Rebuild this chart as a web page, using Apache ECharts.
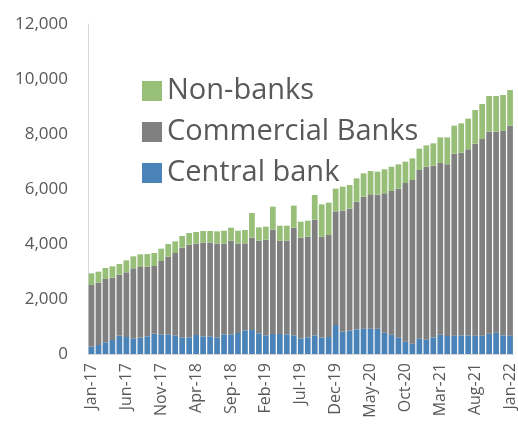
<!DOCTYPE html>
<html>
<head>
<meta charset="utf-8">
<script src="https://cdn.jsdelivr.net/npm/echarts@6/dist/echarts.min.js"></script>
<style>
  html, body { margin: 0; padding: 0; background: #fff; }
</style>
</head>
<body>
<div id="main" style="width: 518px;height:427px;"></div>
<script>
// months, Jan-17 .. Jan-22
const months = [
  "Jan-17", "Feb-17", "Mar-17", "Apr-17", "May-17", "Jun-17", "Jul-17", "Aug-17", "Sep-17", "Oct-17", "Nov-17", "Dec-17",
  "Jan-18", "Feb-18", "Mar-18", "Apr-18", "May-18", "Jun-18", "Jul-18", "Aug-18", "Sep-18", "Oct-18", "Nov-18", "Dec-18",
  "Jan-19", "Feb-19", "Mar-19", "Apr-19", "May-19", "Jun-19", "Jul-19", "Aug-19", "Sep-19", "Oct-19", "Nov-19", "Dec-19",
  "Jan-20", "Feb-20", "Mar-20", "Apr-20", "May-20", "Jun-20", "Jul-20", "Aug-20", "Sep-20", "Oct-20", "Nov-20", "Dec-20",
  "Jan-21", "Feb-21", "Mar-21", "Apr-21", "May-21", "Jun-21", "Jul-21", "Aug-21", "Sep-21", "Oct-21", "Nov-21", "Dec-21",
  "Jan-22"
];

const centralBank = [
  267, 327, 424, 509, 667, 618, 570, 594, 642, 739, 715, 715,
  679, 606, 606, 691, 642, 642, 606, 715, 715, 764, 861, 873,
  752, 679, 727, 727, 715, 679, 570, 606, 679, 594, 618, 1054,
  812, 848, 897, 921, 921, 921, 776, 703, 594, 448, 376, 557,
  521, 606, 703, 655, 667, 679, 679, 667, 667, 739, 776, 679,
  667
];

const commercialBanks = [
  2242, 2267, 2303, 2267, 2218, 2352, 2545, 2569, 2534, 2461, 2666, 2824,
  2993, 3260, 3369, 3321, 3406, 3406, 3406, 3297, 3406, 3248, 3163, 3357,
  3369, 3478, 3794, 3394, 3406, 3915, 3660, 3660, 4205, 3672, 3709, 4133,
  4400, 4436, 4642, 4800, 4885, 4872, 5066, 5224, 5418, 5770, 5951, 6133,
  6290, 6242, 6242, 6241, 6617, 6641, 6763, 6981, 7150, 7345, 7308, 7429,
  7635
];

const nonBanks = [
  424, 400, 400, 412, 388, 436, 436, 461, 460, 472, 449, 461,
  425, 425, 425, 424, 424, 424, 448, 472, 473, 472, 485, 897,
  485, 473, 836, 545, 545, 800, 582, 582, 897, 1176, 1176, 825,
  872, 861, 848, 848, 848, 837, 873, 884, 884, 775, 787, 776,
  776, 812, 933, 982, 1018, 1067, 1115, 1224, 1273, 1297, 1297, 1309,
  1297
];

const chartDom = document.getElementById("main");
const myChart = echarts.init(chartDom, null, { renderer: "canvas" });
const font = "'Open Sans', 'Noto Sans', sans-serif";

const option = {
  animation: false,
  textStyle: { fontFamily: font },
  // 图例
  legend: {
    orient: "vertical",
    left: 137,
    top: 71,
    itemWidth: 20,
    itemHeight: 20,
    itemGap: 11,
    icon: "rect",
    data: ["Non-banks", "Commercial Banks", "Central bank"],
    textStyle: {
      color: "#595959",
      fontSize: 29,
      fontFamily: font,
      lineHeight: 30,
    },
  },
  grid: {
    left: 88,
    top: 24,
    width: 432,
    height: 330,
  },
  xAxis: {
    type: "category",
    data: months,
    axisLine: { lineStyle: { color: "#d9d9d9", width: 1 } },
    axisTick: { show: false },
    axisLabel: {
      interval: 4,
      rotate: 90,
      color: "#595959",
      fontSize: 16,
      fontFamily: font,
      margin: 9,
    },
  },
  yAxis: {
    type: "value",
    min: 0,
    max: 12000,
    interval: 2000,
    axisLine: { show: true, lineStyle: { color: "#d9d9d9", width: 1 } },
    axisTick: { show: false },
    splitLine: { show: false },
    axisLabel: {
      color: "#595959",
      fontSize: 17,
      fontFamily: font,
      margin: 20,
      formatter: (v) => v.toLocaleString("en-US"),
    },
  },
  series: [
    {
      name: "Central bank",
      type: "bar",
      stack: "total",
      data: centralBank,
      barCategoryGap: "18%",
      itemStyle: { color: "#4a83b7" },
    },
    {
      name: "Commercial Banks",
      type: "bar",
      stack: "total",
      data: commercialBanks,
      barCategoryGap: "18%",
      itemStyle: { color: "#808080" },
    },
    {
      name: "Non-banks",
      type: "bar",
      stack: "total",
      data: nonBanks,
      barCategoryGap: "18%",
      itemStyle: { color: "#97bf78" },
    },
  ],
};
option && myChart.setOption(option);
</script>
</body>
</html>
